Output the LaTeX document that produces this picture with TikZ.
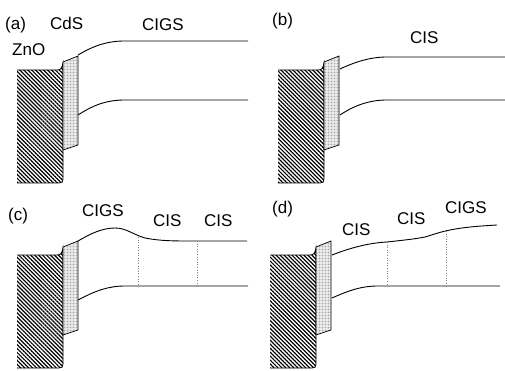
\documentclass[tikz,border=0pt]{standalone}
\usepackage{fontspec}
\setmainfont{Liberation Sans}
\usetikzlibrary{patterns.meta}

\tikzset{
  lbl/.style={anchor=base west, inner sep=0pt, font=\fontsize{17}{19}\selectfont},
  band/.style={line width=0.9pt},
  bound/.style={gray, line width=0.6pt, dotted},
  zno/.style={pattern={Lines[angle=-45, distance=2.8pt, line width=1.2pt]}, pattern color=black},
  cds/.style={preaction={fill=gray!8}, pattern={Dots[distance=1.5pt, radius=0.3pt]},
              pattern color=gray, draw, line width=0.7pt},
  edge/.style={line width=0.8pt}
}

% window layer (ZnO, hatched) and buffer layer (CdS, dotted) at a shift
\newcommand{\winbuf}[2]{%
  \begin{scope}[shift={(#1,#2)}]
    \fill[zno] (17,70) -- (57,70) .. controls (61,70) and (62,68) .. (63,63)
      -- (63,179) .. controls (63,182) and (62,183) .. (59,183) -- (17,183) -- cycle;
    \draw[edge] (17,70) -- (57,70) .. controls (61,70) and (62,68) .. (63,63)
      -- (63,179) .. controls (63,182) and (62,183) .. (59,183) -- (17,183);
    \draw[cds] (63,62) -- (78,56) -- (78,145) -- (63,150) -- cycle;
  \end{scope}}

\begin{document}
\begin{tikzpicture}[x=1pt, y=-1pt]
\useasboundingbox (0,0) rectangle (505,371);

% ---- (a) ZnO / CdS / CIGS
\winbuf{0}{0}
\node[lbl] (la)   at (5,30)   {(a)};
\node[lbl] (lcds) at (50,30)  {CdS};
\node[lbl] (lzno) at (12,56)  {ZnO};
\node[lbl] (lcigsa) at (142,30.5) {CIGS};
\draw[band] (78,55) .. controls (95,45) and (108,41) .. (125,41) -- (248,41);
\draw[band] (78,115) .. controls (95,104) and (108,100) .. (125,100) -- (248,100);

% ---- (b) CIS absorber
\winbuf{261}{0}
\node[lbl] (lb)   at (272,26) {(b)};
\node[lbl] (lcisb) at (410,44) {CIS};
\draw[band] (340,69) .. controls (355,62) and (370,57) .. (387,57) -- (505,57);
\draw[band] (340,115) .. controls (355,105) and (370,100) .. (387,100) -- (505,100);

% ---- (c) CIGS / CIS / CIS
\winbuf{0}{185}
\node[lbl] (lc)   at (8,220)  {(c)};
\node[lbl] (lcigsc) at (82,216) {CIGS};
\node[lbl] (lcisc1) at (153,226) {CIS};
\node[lbl] (lcisc2) at (204,226) {CIS};
\draw[band] (78,241) .. controls (90,234) and (102,228) .. (115,228)
  .. controls (126,228) and (132,234) .. (145,238)
  .. controls (160,241) and (175,241) .. (190,241) -- (247,241);
\draw[band] (78,300) .. controls (95,291) and (108,286) .. (125,286) -- (248,286);
\draw[bound] (138,237) -- (138,286);
\draw[bound] (197,241) -- (197,286);

% ---- (d) CIS / CIS / CIGS
\winbuf{253}{185}
\node[lbl] (ld)   at (272,213) {(d)};
\node[lbl] (lcisd1) at (342,235) {CIS};
\node[lbl] (lcisd2) at (397,224) {CIS};
\node[lbl] (lcigsd) at (445,213) {CIGS};
\draw[band] (332,255) .. controls (350,248) and (368,243) .. (387,242)
  .. controls (405,240) and (415,239) .. (425,237)
  .. controls (435,234) and (440,232) .. (450,230)
  .. controls (465,227) and (480,226) .. (497,225);
\draw[band] (332,298) .. controls (350,290) and (362,286) .. (378,286) -- (500,286);
\draw[bound] (387,242) -- (387,286);
\draw[bound] (446,231) -- (446,286);
\end{tikzpicture}
\end{document}
